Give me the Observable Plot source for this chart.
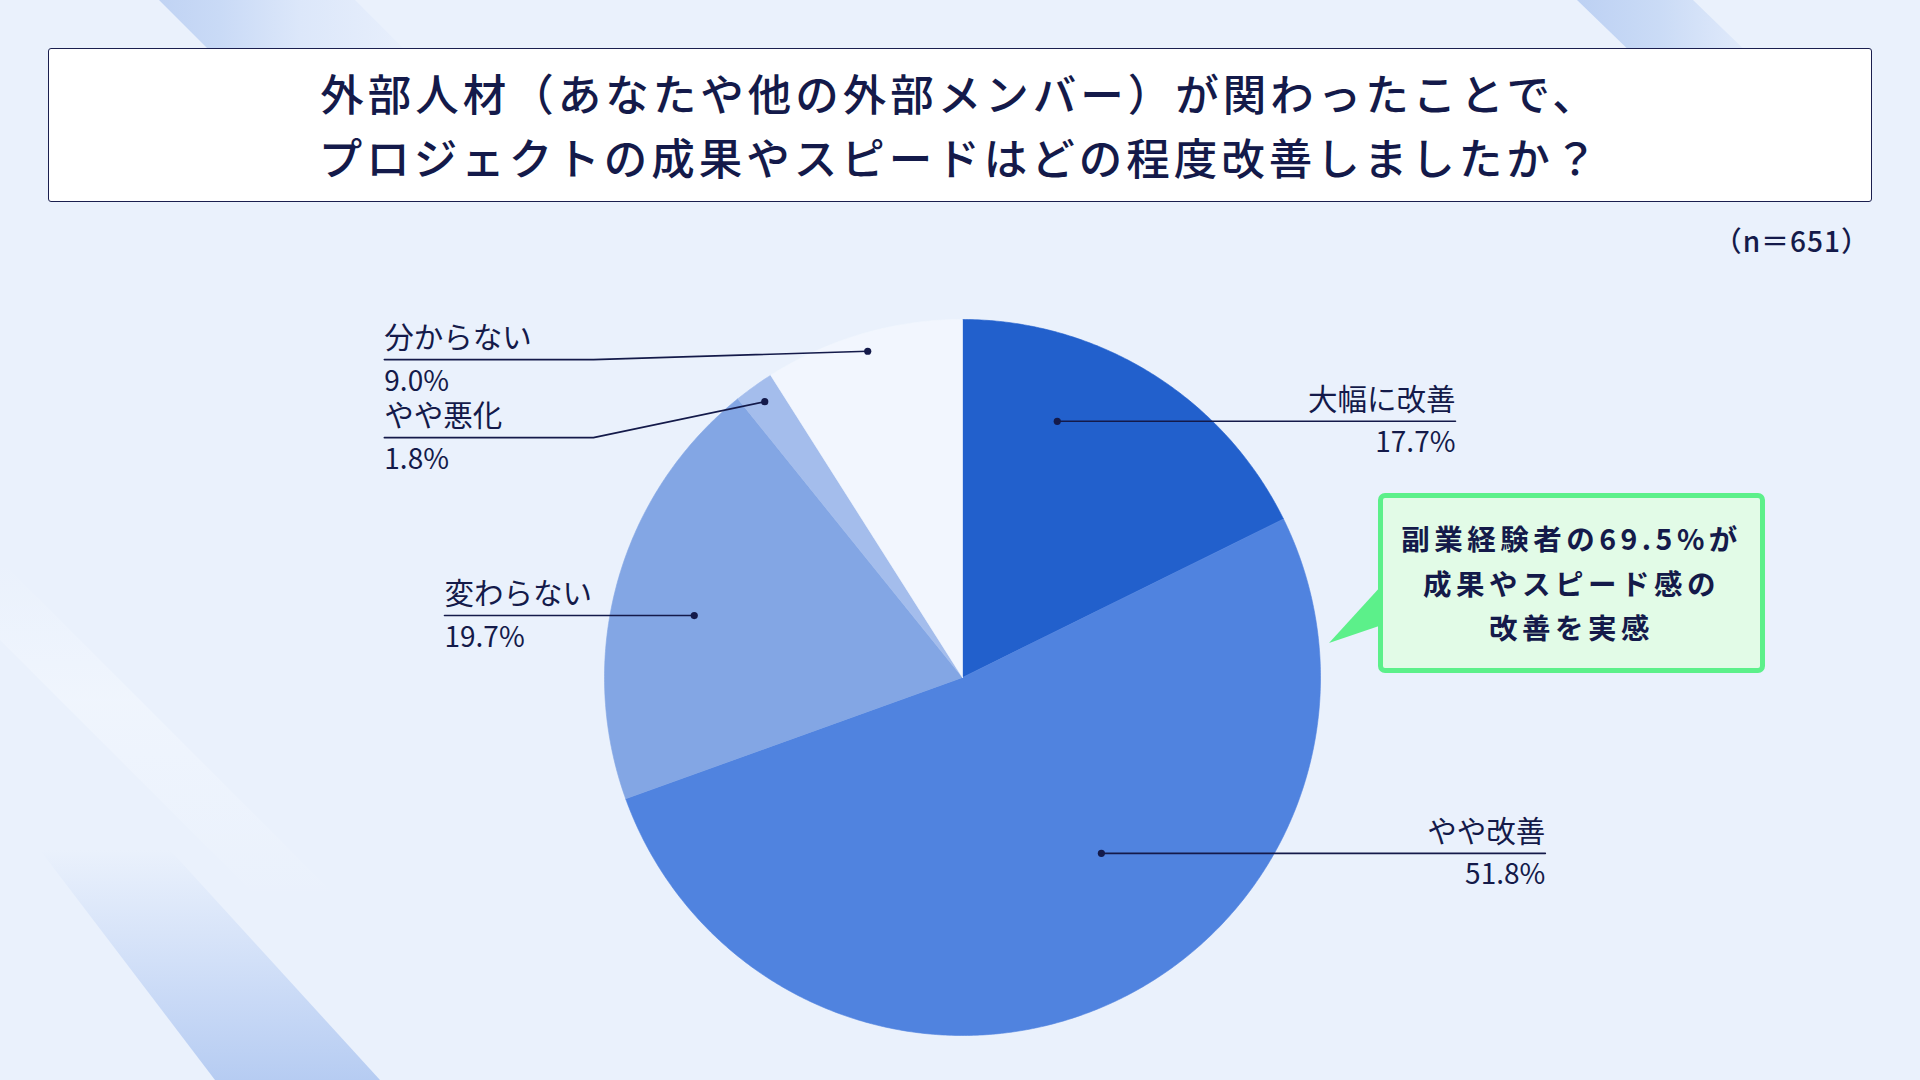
<!DOCTYPE html>
<html lang="ja">
<head>
<meta charset="utf-8">
<script src="https://cdn.jsdelivr.net/npm/d3@7"></script>
<script src="https://cdn.jsdelivr.net/npm/@observablehq/plot@0.6"></script>
<style>
  html, body { margin: 0; padding: 0; }
  body { width: 1920px; height: 1080px; overflow: hidden; background: #eaf1fc; font-family: "Noto Sans CJK JP", "Noto Sans", sans-serif; color: #141a4a; }
  #stage { position: relative; width: 1920px; height: 1080px; }
  .band { position: absolute; left: 0; top: 0; width: 1920px; height: 1080px; }
  #band1 { clip-path: polygon(159px 0, 355px 0, 415px 60px, 219px 60px); background: linear-gradient(90deg, #bfd2f3 150px, #c9daf6 220px, #dce7fa 300px, #e9f0fc 420px); }
  #band2 { clip-path: polygon(1577px 0, 1693px 0, 1755px 60px, 1639px 60px); background: linear-gradient(90deg, #bdd1f3 1580px, #cadbf6 1660px, #e2ebfb 1750px); }
  #band3 { clip-path: polygon(40px 850px, 170px 850px, 380px 1080px, 215px 1080px); background: linear-gradient(to bottom, rgba(234,241,252,0) 850px, #d2e0f8 960px, #b6ccf2 1080px); }
  #band4 { clip-path: polygon(0 560px, 0 640px, 260px 900px, 340px 900px); background: linear-gradient(to bottom, rgba(245,249,255,0) 560px, rgba(245,249,255,0.5) 700px, rgba(245,249,255,0) 900px); }
  #titlebox { position: absolute; left: 48px; top: 48px; width: 1824px; height: 154px; background: #ffffff; border: 1.5px solid #1b1f4f; border-radius: 3px; box-sizing: border-box; display: flex; flex-direction: column; align-items: center; justify-content: center; }
  #titlebox div { font-size: 43.5px; font-weight: 500; letter-spacing: 4px; line-height: 64px; color: #141a4a; white-space: nowrap; }
  #n { position: absolute; right: 50px; top: 221px; font-size: 28px; font-weight: 500; letter-spacing: 1px; line-height: 38px; color: #141a4a; }
  #chart { position: absolute; left: 0; top: 0; }
  #callout { position: absolute; left: 1378px; top: 493px; width: 387px; height: 180px; box-sizing: border-box; border: 5px solid #5cf08a; border-radius: 7px; background: #e2fbe7; display: flex; flex-direction: column; align-items: center; justify-content: center; }
  #callout div { font-size: 28.5px; font-weight: 700; letter-spacing: 4.5px; line-height: 44.5px; color: #141a4a; white-space: nowrap; }
  #pointer { position: absolute; left: 1328px; top: 585px; width: 54px; height: 60px; background: #5cf08a; clip-path: polygon(1px 58px, 54px 0px, 54px 40px); }
</style>
</head>
<body>
<div id="stage">
  <div class="band" id="band1"></div>
  <div class="band" id="band2"></div>
  <div class="band" id="band3"></div>
  <div class="band" id="band4"></div>
  <div id="chart"></div>
  <div id="titlebox"></div>
  <div id="n"></div>
  <div id="pointer"></div>
  <div id="callout"></div>
</div>
<script>
// ---- data ----
const titleLines = ["外部人材（あなたや他の外部メンバー）が関わったことで、", "プロジェクトの成果やスピードはどの程度改善しましたか？"];
const sampleNote = "（n＝651）";
const categories = ["大幅に改善", "やや改善", "変わらない", "やや悪化", "分からない"];
const values = [17.7, 51.8, 19.7, 1.8, 9.0];
const calloutLines = ["副業経験者の69.5%が", "成果やスピード感の", "改善を実感"];

// ---- styles / layout ----
const colors = ["#2260cc", "#5083df", "#83a6e4", "#a4bdec", "#f2f6fe"];
const ink = "#141a4a";
// label layout in pie-radius units (angle in degrees clockwise from 12 o'clock)
const labelLayout = [
  {dotAngle: 20.3, dotR: 0.763, elbow: null, endX: 1.377, anchor: "end"},
  {dotAngle: 141.7, dotR: 0.626, elbow: null, endX: 1.628, anchor: "end"},
  {dotAngle: 283.0, dotR: 0.769, elbow: null, endX: -1.447, anchor: "start"},
  {dotAngle: null, dotR: 0.948, elbow: [-1.031, 0.670], endX: -1.615, anchor: "start"},
  {dotAngle: null, dotR: 0.949, elbow: [-1.031, 0.888], endX: -1.615, anchor: "start"}
];
const W = 1920, H = 1080, CX = 962, CY = 677, R = 358;

// ---- HTML texts ----
document.getElementById("titlebox").innerHTML = titleLines.map(t => `<div>${t}</div>`).join("");
document.getElementById("n").textContent = sampleNote;
document.getElementById("callout").innerHTML = calloutLines.map(t => `<div>${t}</div>`).join("");

// ---- geometry from data ----
const arcs = d3.pie().sort(null).value(d => d)(values);
const slicePts = [];
arcs.forEach((a, i) => {
  const cat = categories[i];
  slicePts.push({cat, x: 0, y: 0});
  const n = Math.max(2, Math.ceil((a.endAngle - a.startAngle) / (Math.PI / 360)));
  for (let k = 0; k <= n; k++) {
    const t = a.startAngle + (a.endAngle - a.startAngle) * k / n;
    slicePts.push({cat, x: Math.sin(t), y: Math.cos(t)});
  }
  slicePts.push({cat, x: 0, y: 0});
});

const labels = arcs.map((a, i) => {
  const L = labelLayout[i];
  const ang = L.dotAngle != null ? L.dotAngle * Math.PI / 180 : (a.startAngle + a.endAngle) / 2;
  const dx = L.dotR * Math.sin(ang), dy = L.dotR * Math.cos(ang);
  const ey = L.elbow ? L.elbow[1] : dy;
  return {cat: categories[i], pct: values[i].toFixed(1) + "%", dx, dy, ex: L.endX, ey, elbow: L.elbow, anchor: L.anchor};
});
const leaderPts = [];
labels.forEach(l => {
  leaderPts.push({cat: l.cat, x: l.dx, y: l.dy});
  if (l.elbow) leaderPts.push({cat: l.cat, x: l.elbow[0], y: l.elbow[1]});
  leaderPts.push({cat: l.cat, x: l.ex, y: l.ey});
});

const textMark = (anchor, field, dy, size) => Plot.text(labels, {
  filter: d => d.anchor === anchor, x: "ex", y: "ey", text: field, textAnchor: anchor,
  dy, fontSize: size, fill: ink, lineAnchor: "middle"
});

const chart = Plot.plot({
  width: W, height: H, margin: 0,
  x: {domain: [-CX / R, (W - CX) / R], axis: null},
  y: {domain: [-(H - CY) / R, CY / R], axis: null},
  color: {domain: categories, range: colors},
  style: {background: "transparent", fontFamily: "'Noto Sans CJK JP', sans-serif", overflow: "visible"},
  marks: [
    Plot.line(slicePts, {x: "x", y: "y", z: "cat", fill: "cat", stroke: "cat", strokeWidth: 0.6, curve: "linear"}),
    Plot.line(leaderPts, {x: "x", y: "y", z: "cat", stroke: ink, strokeWidth: 1.6}),
    Plot.dot(labels, {x: "dx", y: "dy", r: 3.6, fill: ink}),
    textMark("start", "cat", -21, 29.5),
    textMark("start", "pct", 22, 28),
    textMark("end", "cat", -21, 29.5),
    textMark("end", "pct", 22, 28)
  ]
});
document.getElementById("chart").appendChild(chart);
</script>
</body>
</html>
